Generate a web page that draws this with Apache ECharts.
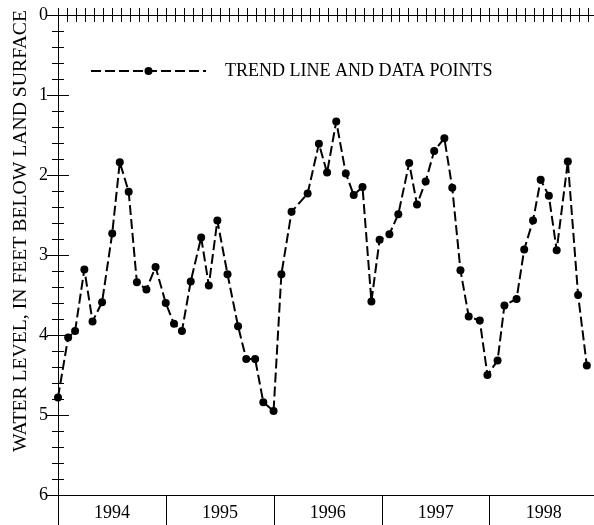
<!DOCTYPE html>
<html><head><meta charset="utf-8">
<script src="https://cdn.jsdelivr.net/npm/echarts@6/dist/echarts.min.js"></script>
<style>html,body{margin:0;padding:0;background:#fff}#c{width:594px;height:525px}</style>
</head><body><div id="c"></div>
<script>
// months since Jan 1, 1994
var months = [0,1.13,1.90,2.93,3.84,4.90,6.03,6.87,7.86,8.77,9.83,10.85,11.98,12.90,13.78,14.76,15.92,16.77,17.72,18.85,20.02,20.93,21.92,22.83,23.97,24.84,25.97,27.76,29.01,29.92,30.94,32.00,32.88,33.86,34.85,35.76,36.85,37.84,39.05,39.92,40.88,41.83,42.96,43.84,44.75,45.67,46.90,47.75,48.88,49.64,50.99,51.84,52.82,53.67,54.58,55.45,56.69,57.83,58.8];
var levels = [4.78,4.03,3.95,3.18,3.83,3.59,2.73,1.84,2.21,3.34,3.43,3.15,3.60,3.86,3.95,3.33,2.78,3.38,2.57,3.24,3.89,4.30,4.30,4.84,4.95,3.24,2.46,2.23,1.61,1.97,1.33,1.98,2.25,2.15,3.58,2.81,2.74,2.49,1.85,2.37,2.08,1.70,1.54,2.16,3.19,3.77,3.82,4.50,4.32,3.63,3.55,2.93,2.57,2.06,2.26,2.94,1.83,3.50,4.38];
var years = ['1994','1995','1996','1997','1998'];
var yTicks = ['0','1','2','3','4','5','6'];
var seriesName = 'TREND LINE AND DATA POINTS';
var yTitle = 'WATER LEVEL, IN FEET BELOW LAND SURFACE';

var data = months.map(function(m,i){return [m, levels[i]];});
var FONT = 'Liberation Serif';
var XMAX = 59.6;
var chart = echarts.init(document.getElementById('c'), null, {renderer:'canvas'});
var lineAx = {show:true, lineStyle:{color:'#000', width:1}};
chart.setOption({
  animation:false,
  backgroundColor:'#fff',
  grid:[{left:58, top:15, width:544, height:480, containLabel:false},
        {left:58, top:15, width:544, height:480, containLabel:false}],
  legend:{
    left:90, top:61, padding:0, itemWidth:115, itemHeight:10,
    data:[seriesName],
    textStyle:{fontFamily:FONT, fontSize:18, color:'#000', padding:[0,0,0,14], lineHeight:20}
  },
  graphic:[{
    type:'text', rotation:Math.PI/2, x:21, y:231,
    style:{text:yTitle, font:'19.7px "Liberation Serif"', fill:'#000', align:'center', verticalAlign:'middle'}
  }],
  xAxis:[
    {gridIndex:0, type:'value', position:'bottom', min:0, max:XMAX, interval:1,
     axisLine:lineAx, axisTick:{show:true, inside:true, length:7, lineStyle:{color:'#000'}},
     axisLabel:{show:false}, splitLine:{show:false}},
    {gridIndex:0, type:'value', position:'top', min:0, max:XMAX, interval:1,
     axisLine:lineAx, axisTick:{show:true, inside:true, length:7, lineStyle:{color:'#000'}},
     axisLabel:{show:false}, splitLine:{show:false}},
    {gridIndex:1, type:'value', position:'bottom', min:0, max:XMAX, interval:12,
     axisLine:lineAx,
     axisTick:{show:true, inside:false, length:32, customValues:[0,12,24,36,48], lineStyle:{color:'#000'}},
     axisLabel:{show:true, customValues:[6,18,30,42,54], margin:9,
       formatter:function(v){return years[Math.round((v-6)/12)];},
       fontFamily:FONT, fontSize:18, color:'#000'},
     splitLine:{show:false}}
  ],
  yAxis:[
    {gridIndex:0, type:'value', position:'left', inverse:true, min:0, max:6, interval:1,
     axisLine:lineAx,
     axisTick:{show:true, inside:true, length:11, lineStyle:{color:'#000'}},
     minorTick:{show:true, splitNumber:5, length:6, lineStyle:{color:'#000'}},
     axisLabel:{show:true, margin:10, fontFamily:FONT, fontSize:18, color:'#000',
       formatter:function(v){return yTicks[Math.round(v)];}},
     splitLine:{show:false}, minorSplitLine:{show:false}},
    {gridIndex:0, type:'value', position:'right', inverse:true, min:0, max:6, interval:1,
     axisLine:lineAx,
     axisTick:{show:true, inside:true, length:11, lineStyle:{color:'#000'}},
     minorTick:{show:true, splitNumber:5, length:6, lineStyle:{color:'#000'}},
     axisLabel:{show:false}, splitLine:{show:false}},
    {gridIndex:1, type:'value', show:false, min:0, max:6}
  ],
  series:[{
    name:seriesName, type:'line', xAxisIndex:0, yAxisIndex:0, data:data,
    symbol:'circle', symbolSize:8, showSymbol:true, clip:false,
    lineStyle:{color:'#000', width:2, type:[10,4]},
    itemStyle:{color:'#000'}
  }]
});
</script></body></html>
